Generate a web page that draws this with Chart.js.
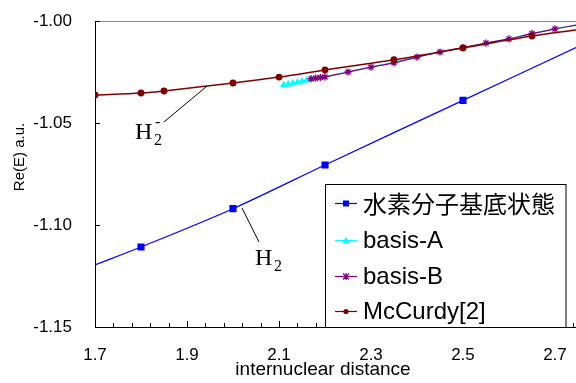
<!DOCTYPE html>
<html>
<head>
<meta charset="utf-8">
<script src="https://cdn.jsdelivr.net/npm/chart.js@4.4.0/dist/chart.umd.min.js"></script>
<style>
  html, body { margin: 0; padding: 0; background: #fff; }
  #wrap { width: 576px; height: 383px; position: relative; }
</style>
</head>
<body>
<div id="wrap"><canvas id="chart"></canvas></div>
<script>
// 水素分子基底状態 (end points carry the line only)
const h2X = [1.7, 1.8, 2.0, 2.2, 2.5, 2.7457];
const h2Y = [-1.1196, -1.1108, -1.0920, -1.0706, -1.0389, -1.0130];
const h2Marker = [0, 1, 1, 1, 1, 0];

// basis-A, runs on under basis-B after 2.17
const basisAX = [2.11, 2.12, 2.13, 2.14, 2.15, 2.16, 2.17, 2.20, 2.30, 2.40, 2.50, 2.60, 2.70, 2.7457];
const basisAY = [-1.0314, -1.0310, -1.0305, -1.0301, -1.0296, -1.0291, -1.0286, -1.0274, -1.0226, -1.0177, -1.0130, -1.0088, -1.0039, -1.0020];
const basisAMarker = [1, 1, 1, 1, 1, 1, 1, 0, 0, 0, 0, 0, 0, 0];

// basis-B
const basisBX = [2.17, 2.18, 2.19, 2.20, 2.25, 2.30, 2.35, 2.40, 2.45, 2.50, 2.55, 2.60, 2.65, 2.70, 2.7457];
const basisBY = [-1.0283, -1.0280, -1.0277, -1.0274, -1.0250, -1.0226, -1.0205, -1.0177, -1.0152, -1.0130, -1.0108, -1.0088, -1.0061, -1.0039, -1.0020];
const basisBMarker = [1, 1, 1, 1, 1, 1, 1, 1, 1, 1, 1, 1, 1, 1, 0];

// McCurdy[2]
const mccurdyX = [1.7, 1.8, 1.85, 2.0, 2.1, 2.2, 2.35, 2.5, 2.65, 2.7457];
const mccurdyY = [-1.0363, -1.0353, -1.0343, -1.0304, -1.0275, -1.0240, -1.0190, -1.0132, -1.0074, -1.0044];
const mccurdyMarker = [1, 1, 1, 1, 1, 1, 1, 1, 1, 0];

const xTicks = [1.7, 1.9, 2.1, 2.3, 2.5, 2.7];
const yTicks = [-1.15, -1.10, -1.05, -1.00];
const seriesNames = ['水素分子基底状態', 'basis-A', 'basis-B', 'McCurdy[2]'];
const seriesColors = ['#0000ff', '#00ffff', '#800080', '#800000'];

const SANS = '"Liberation Sans", Arial, sans-serif';
const SERIF = '"Liberation Serif", "Times New Roman", serif';
const CJK = '"Noto Sans CJK JP", "Liberation Sans", sans-serif';

function pts(xs, ys) {
    return xs.map((x, i) => ({ x: x, y: ys[i] }));
}

// small marker painter for the legend box
function marker(ctx, kind, x, y, color) {
    ctx.save();
    ctx.fillStyle = color;
    ctx.strokeStyle = color;
    ctx.lineWidth = 1.2;
    ctx.beginPath();
    if (kind === 'rect') {
        ctx.rect(x - 3, y - 3, 6, 6);
        ctx.fill();
    } else if (kind === 'triangle') {
        ctx.moveTo(x, y - 3.5);
        ctx.lineTo(x + 3.5, y + 2.5);
        ctx.lineTo(x - 3.5, y + 2.5);
        ctx.closePath();
        ctx.fill();
    } else if (kind === 'star') {
        ctx.moveTo(x - 3, y - 3); ctx.lineTo(x + 3, y + 3);
        ctx.moveTo(x + 3, y - 3); ctx.lineTo(x - 3, y + 3);
        ctx.moveTo(x, y - 3.5); ctx.lineTo(x, y + 3.5);
        ctx.stroke();
    } else {
        ctx.arc(x, y, 2.6, 0, Math.PI * 2);
        ctx.fill();
    }
    ctx.restore();
}

const decor = {
    id: 'decor',
    afterDraw(chart) {
        const { ctx, chartArea: a, scales: { x, y } } = chart;
        ctx.save();

        // grey top frame
        ctx.strokeStyle = '#888';
        ctx.lineWidth = 1;
        ctx.beginPath();
        ctx.moveTo(a.left, a.top + 0.5);
        ctx.lineTo(a.right, a.top + 0.5);
        ctx.stroke();

        // inward tick marks: minor every 0.04, major every 0.2
        ctx.strokeStyle = '#000';
        ctx.beginPath();
        for (let i = 0; ; i++) {
            const v = 1.7 + i * 0.04;
            if (v > x.max + 1e-9) break;
            const px = Math.round(x.getPixelForValue(v)) + 0.5;
            const major = i % 5 === 0;
            ctx.moveTo(px, a.bottom);
            ctx.lineTo(px, a.bottom - (major ? 6 : 4));
        }
        yTicks.forEach(v => {
            const py = Math.round(y.getPixelForValue(v)) + 0.5;
            ctx.moveTo(a.left, py);
            ctx.lineTo(a.left + 5, py);
        });
        ctx.stroke();

        // axis titles
        ctx.fillStyle = '#000';
        ctx.textAlign = 'center';
        ctx.textBaseline = 'middle';
        ctx.font = '19px ' + SANS;
        ctx.fillText('internuclear distance', 323, 370);
        ctx.font = '15px ' + SANS;
        ctx.save();
        ctx.translate(20, 157);
        ctx.rotate(-Math.PI / 2);
        ctx.fillText('Re(E) a.u.', 0, 0);
        ctx.restore();

        // leader lines and labels
        ctx.strokeStyle = '#000';
        ctx.beginPath();
        ctx.moveTo(x.getPixelForValue(2.0196), y.getPixelForValue(-1.0917));
        ctx.lineTo(x.getPixelForValue(2.0565), y.getPixelForValue(-1.1083));
        ctx.moveTo(x.getPixelForValue(1.9435), y.getPixelForValue(-1.0319));
        ctx.lineTo(x.getPixelForValue(1.8500), y.getPixelForValue(-1.0495));
        ctx.stroke();

        ctx.textAlign = 'left';
        ctx.textBaseline = 'alphabetic';
        let hx = x.getPixelForValue(2.0478), hy = y.getPixelForValue(-1.1196);
        ctx.font = '24px ' + SERIF;
        ctx.fillText('H', hx, hy);
        ctx.font = '16px ' + SERIF;
        ctx.fillText('2', hx + 19, hy + 6);

        hx = x.getPixelForValue(1.7870);
        hy = y.getPixelForValue(-1.0578);
        ctx.font = '24px ' + SERIF;
        ctx.fillText('H', hx, hy);
        ctx.font = '16px ' + SERIF;
        ctx.fillText('2', hx + 19, hy + 6);
        ctx.fillText('-', hx + 20, hy - 12);

        // legend box
        const lx = 325.5, ly = 184.5, lw = 240.5, lh = 143;
        ctx.fillStyle = '#fff';
        ctx.fillRect(lx, ly, lw, lh);
        ctx.strokeStyle = '#000';
        ctx.strokeRect(lx, ly, lw, lh);
        const rows = [203, 240, 276, 311];
        const kinds = ['rect', 'triangle', 'star', 'circle'];
        rows.forEach((ry, i) => {
            ctx.strokeStyle = seriesColors[i];
            ctx.lineWidth = 1.2;
            ctx.beginPath();
            ctx.moveTo(335, ry + 0.5);
            ctx.lineTo(357, ry + 0.5);
            ctx.stroke();
            marker(ctx, kinds[i], 346, ry + 0.5, seriesColors[i]);
            ctx.fillStyle = '#000';
            ctx.font = '24px ' + (i === 0 ? CJK : SANS);
            ctx.textBaseline = 'middle';
            ctx.fillText(seriesNames[i], 363, ry + 1);
        });

        ctx.restore();
    }
};

Chart.defaults.color = '#000';
Chart.defaults.font.family = SANS;

new Chart(document.getElementById('chart'), {
    type: 'line',
    data: {
        datasets: [
            {
                label: seriesNames[0],
                data: pts(h2X, h2Y),
                borderColor: seriesColors[0],
                backgroundColor: seriesColors[0],
                borderWidth: 1.2,
                pointStyle: 'rect',
                pointRadius: h2Marker.map(m => m ? 4.2 : 0),
                tension: 0.3,
                order: 4
            },
            {
                label: seriesNames[1],
                data: pts(basisAX, basisAY),
                borderColor: seriesColors[1],
                backgroundColor: seriesColors[1],
                borderWidth: 1.2,
                pointStyle: 'triangle',
                pointRadius: basisAMarker.map(m => m ? 3.2 : 0),
                tension: 0.3,
                order: 3
            },
            {
                label: seriesNames[2],
                data: pts(basisBX, basisBY),
                borderColor: seriesColors[2],
                backgroundColor: seriesColors[2],
                borderWidth: 1.2,
                pointStyle: 'star',
                pointBorderWidth: 1.3,
                pointRadius: basisBMarker.map(m => m ? 3.6 : 0),
                tension: 0.3,
                order: 2
            },
            {
                label: seriesNames[3],
                data: pts(mccurdyX, mccurdyY),
                borderColor: seriesColors[3],
                backgroundColor: seriesColors[3],
                borderWidth: 1.5,
                pointStyle: 'circle',
                pointRadius: mccurdyMarker.map(m => m ? 2.7 : 0),
                tension: 0.3,
                order: 1
            }
        ]
    },
    options: {
        responsive: true,
        maintainAspectRatio: false,
        animation: false,
        layout: { autoPadding: false, padding: { top: 21, right: 0, left: 0, bottom: 0 } },
        plugins: {
            legend: { display: false },
            tooltip: { enabled: false }
        },
        scales: {
            x: {
                type: 'linear',
                min: 1.7,
                max: 2.7457,
                afterBuildTicks: axis => { axis.ticks = xTicks.map(v => ({ value: v })); },
                afterFit: axis => {
                    axis.height = 56;
                    axis.paddingLeft = 0;
                    axis.paddingRight = 0;
                },
                grid: { display: false, drawTicks: false },
                border: { display: true, color: '#000', width: 1 },
                ticks: {
                    autoSkip: false,
                    maxRotation: 0,
                    padding: 18,
                    font: { size: 17, family: SANS },
                    callback: v => v.toFixed(1)
                }
            },
            y: {
                type: 'linear',
                min: -1.15,
                max: -1.00,
                afterBuildTicks: axis => { axis.ticks = yTicks.map(v => ({ value: v })); },
                afterFit: axis => {
                    axis.width = 95;
                    axis.paddingTop = 0;
                    axis.paddingBottom = 0;
                },
                grid: { display: false, drawTicks: false },
                border: { display: true, color: '#000', width: 1 },
                ticks: {
                    autoSkip: false,
                    padding: 23,
                    font: { size: 17, family: SANS },
                    callback: v => v.toFixed(2)
                }
            }
        }
    },
    plugins: [decor]
});
</script>
</body>
</html>
